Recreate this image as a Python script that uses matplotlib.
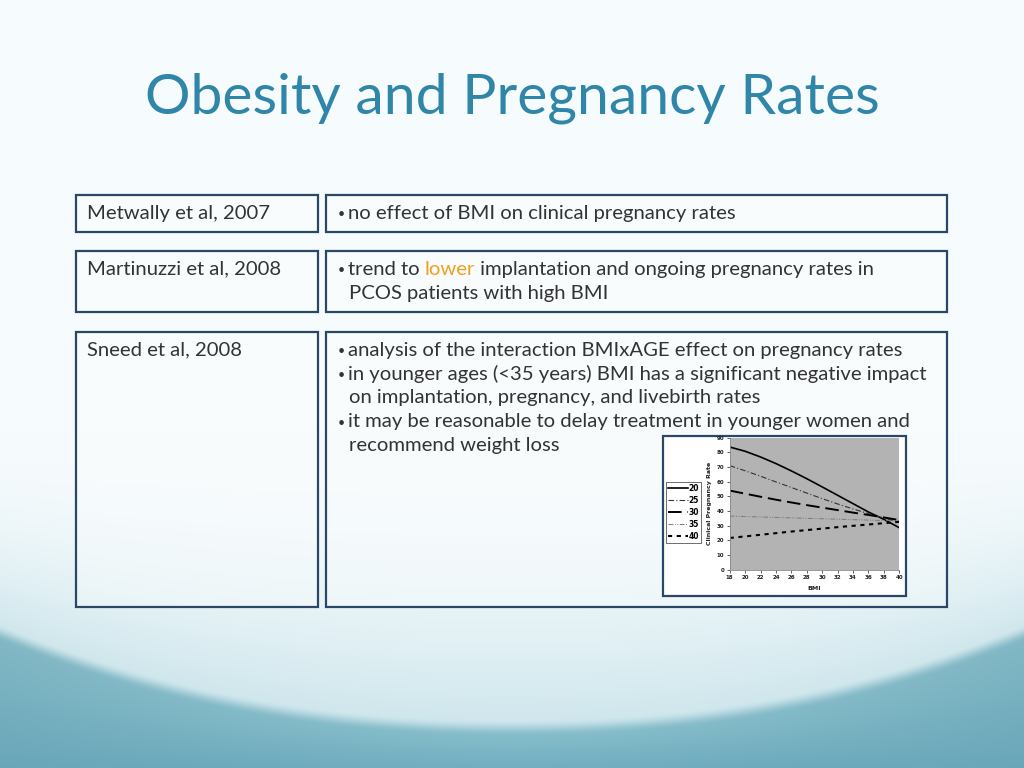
import numpy as np
import matplotlib
matplotlib.use("Agg")
import matplotlib.pyplot as plt
from matplotlib.patches import Rectangle

# ---------------- data ----------------
title = "Obesity and Pregnancy Rates"
studies = ["Metwally et al, 2007", "Martinuzzi et al, 2008", "Sneed et al, 2008"]
bmi = [18, 20, 22, 24, 26, 28, 30, 32, 34, 36, 38, 40]
age_labels = ["20", "25", "30", "35", "40"]
rate_20 = [83.6, 80.7, 76.8, 72.3, 67.3, 62.0, 56.4, 50.7, 45.0, 39.3, 34.3, 28.6]
rate_25 = [70.9, 67.4, 63.7, 59.8, 56.0, 52.2, 48.4, 44.8, 41.4, 38.2, 35.2, 32.5]
rate_30 = [53.9, 51.8, 49.7, 47.7, 45.8, 44.0, 42.3, 40.6, 38.9, 37.3, 35.6, 33.8]
rate_35 = [36.5, 36.2, 35.9, 35.6, 35.3, 35.0, 34.7, 34.4, 34.1, 33.8, 33.5, 33.2]
rate_40 = [21.6, 22.7, 23.8, 24.9, 26.0, 27.0, 28.0, 29.0, 29.9, 30.8, 31.7, 32.6]
y_ticks = [0, 10, 20, 30, 40, 50, 60, 70, 80, 90]

W, H = 1024, 768
fig = plt.figure(figsize=(W / 100, H / 100), dpi=100)

# ---------------- background ----------------
bg = fig.add_axes([0, 0, 1, 1], zorder=-10)
yy, xx = np.mgrid[0:H, 0:W].astype(float)
dx = np.abs(xx - 512) / 512
yb = 725 - 95 * dx ** 2.2
top_c = np.array([246, 251, 253]) / 255
tint_c = np.array([206, 230, 236]) / 255
f = np.clip((yy - 430) / (yb - 430), 0, 1) ** 2
light = top_c * (1 - f[..., None]) + tint_c * f[..., None]
d = yy - yb
g = np.clip(d / (H - yb + 1), 0, 1)[..., None]
teal_hi = np.array([140, 193, 206]) / 255
teal_lo = np.array([112, 174, 192]) / 255
teal = teal_hi * (1 - g) + teal_lo * g
teal = teal - 0.03 * dx[..., None]
m = np.clip((d + 6) / 16, 0, 1)
m = (m * m * (3 - 2 * m))[..., None]
img = np.clip(light * (1 - m) + teal * m, 0, 1)
bg.imshow(img, extent=[0, W, H, 0], aspect="auto", interpolation="bilinear")
bg.set_xlim(0, W)
bg.set_ylim(H, 0)
bg.axis("off")

def fx(px):
    return px / W

def fyy(py):
    return 1 - py / H

border = "#2b4767"
def box(x0, y0, x1, y1):
    r = Rectangle((fx(x0), fyy(y1)), fx(x1) - fx(x0), fyy(y0) - fyy(y1),
                  transform=fig.transFigure, facecolor=(1, 1, 1, 0.3),
                  edgecolor=border, linewidth=1.6, zorder=1)
    fig.patches.append(r)
    return r

rows = [(195, 232), (251, 312), (332, 607)]
for (y0, y1) in rows:
    box(76, y0, 318, y1)
    box(326, y0, 947, y1)

font = "Lato"
tc = "#333333"
fig.text(0.5, fyy(98), title, ha="center", va="center", fontsize=41,
         color="#2f86a8", family=font)

fs = 14.6
fig.text(fx(87), fyy(213), studies[0], ha="left", va="center", fontsize=fs, color=tc, family=font)
fig.text(fx(87), fyy(269), studies[1], ha="left", va="center", fontsize=fs, color=tc, family=font)
fig.text(fx(87), fyy(350), studies[2], ha="left", va="center", fontsize=fs, color=tc, family=font)

def bullet(y):
    fig.text(fx(338), fyy(y), "•", ha="left", va="center", fontsize=9, color=tc, family=font)

bullet(214)
fig.text(fx(348), fyy(213), "no effect of BMI on clinical pregnancy rates", ha="left", va="center",
         fontsize=fs, color=tc, family=font)

bullet(270)
renderer = fig.canvas.get_renderer()
t1 = fig.text(fx(348), fyy(269), "trend to ", ha="left", va="center", fontsize=fs, color=tc, family=font)
e1 = t1.get_window_extent(renderer)
t2 = fig.text(e1.x1 / W, fyy(269), "lower", ha="left", va="center", fontsize=fs, color="#f0a020", family=font)
e2 = t2.get_window_extent(renderer)
fig.text(e2.x1 / W, fyy(269), " implantation and ongoing pregnancy rates in", ha="left", va="center",
         fontsize=fs, color=tc, family=font)
fig.text(fx(349), fyy(293), "PCOS patients with high BMI", ha="left", va="center", fontsize=fs, color=tc, family=font)

lines3 = [
    (True, "analysis of the interaction BMIxAGE effect on pregnancy rates"),
    (True, "in younger ages (<35 years) BMI has a significant negative impact"),
    (False, "on implantation, pregnancy, and livebirth rates"),
    (True, "it may be reasonable to delay treatment in younger women and"),
    (False, "recommend weight loss"),
]
for i, (b, s) in enumerate(lines3):
    y = 350 + 24 * i
    if b:
        bullet(y + 1)
        fig.text(fx(348), fyy(y), s, ha="left", va="center", fontsize=fs, color=tc, family=font)
    else:
        fig.text(fx(349), fyy(y), s, ha="left", va="center", fontsize=fs, color=tc, family=font)

# ---------------- inset chart ----------------
inset = Rectangle((fx(663), fyy(596)), fx(906) - fx(663), fyy(436) - fyy(596),
                  transform=fig.transFigure, facecolor="white", edgecolor=border,
                  linewidth=1.6, zorder=2)
fig.patches.append(inset)

ax = fig.add_axes([fx(729.7), fyy(569.7), fx(899.3) - fx(729.7), fyy(437.6) - fyy(569.7)], zorder=3)
ax.set_facecolor("#b3b3b3")
ax.plot(bmi, rate_20, color="black", lw=1.2, ls="-", label=age_labels[0])
ax.plot(bmi, rate_25, color="#333333", lw=0.8, dashes=(5, 2, 1, 2), label=age_labels[1])
ax.plot(bmi, rate_30, color="black", lw=1.4, dashes=(7, 3), label=age_labels[2])
ax.plot(bmi, rate_35, color="#7a7a7a", lw=0.7, dashes=(5, 1.5, 1, 1.5, 1, 1.5), label=age_labels[3])
ax.plot(bmi, rate_40, color="black", lw=1.5, dashes=(2, 2.2), label=age_labels[4])
ax.set_xlim(18, 40)
ax.set_ylim(0, 90)
ax.set_xticks(bmi)
ax.set_yticks(y_ticks)
ax.tick_params(axis="both", labelsize=4, length=2, width=0.5, pad=2, colors="#222222")
for lab in ax.get_xticklabels() + ax.get_yticklabels():
    lab.set_fontweight("bold")
for sp in ["top", "right"]:
    ax.spines[sp].set_visible(False)
for sp in ["left", "bottom"]:
    ax.spines[sp].set_color("#888888")
    ax.spines[sp].set_linewidth(0.6)
ax.set_ylabel("Clinical Pregnancy Rate", fontsize=4.5, fontweight="bold", labelpad=3, color="#222222")
ax.set_xlabel("BMI", fontsize=4.5, fontweight="bold", labelpad=4, color="#222222")
for tk in ax.yaxis.get_major_ticks():
    tk.label1.set_clip_path(inset)

leg = ax.legend(loc="upper left", bbox_to_anchor=(fx(666), fyy(482)), bbox_transform=fig.transFigure,
                fontsize=5.5, handlelength=2.6, handletextpad=0.1, borderpad=0.25, labelspacing=0.4,
                borderaxespad=0, frameon=True, fancybox=False, edgecolor="black")
leg.get_frame().set_linewidth(0.5)
for txt in leg.get_texts():
    txt.set_fontweight("bold")

fig.savefig("out.png", dpi=100)
